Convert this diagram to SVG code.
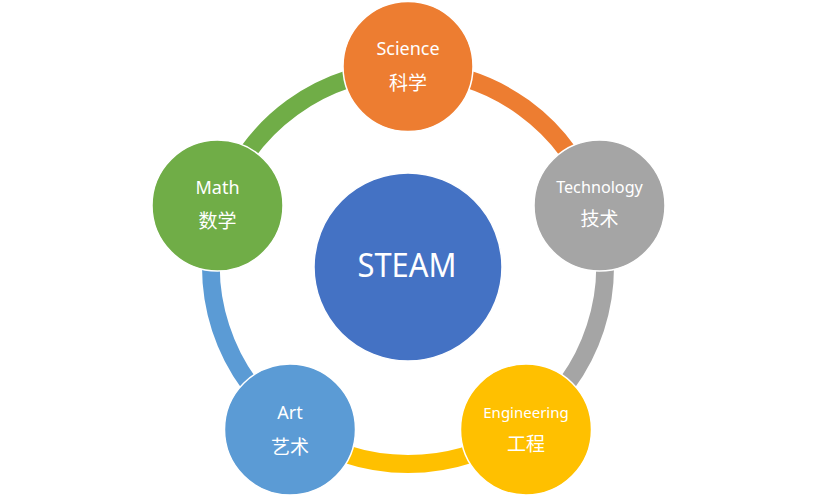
<svg xmlns="http://www.w3.org/2000/svg" width="816" height="500" viewBox="0 0 816 500">
<style>
.arc{fill:none;stroke-width:18}
.node{stroke:#FFFFFF;stroke-width:1.5}
.lat{font-family:"Noto Sans","Liberation Sans",sans-serif;fill:#FFFFFF;text-anchor:middle}
.cjk{font-family:"Noto Sans CJK SC","Noto Sans",sans-serif;fill:#FFFFFF;text-anchor:middle;font-size:19px}
</style>
<rect width="816" height="500" fill="#FFFFFF"/>
<g id="connectors">
<path class="arc" stroke="#ED7D31" d="M408,70 A197,197 0 0 1 595.36,206.12"/>
<path class="arc" stroke="#A5A5A5" d="M595.36,206.12 A197,197 0 0 1 523.79,426.38"/>
<path class="arc" stroke="#FFC000" d="M523.79,426.38 A197,197 0 0 1 292.21,426.38"/>
<path class="arc" stroke="#5B9BD5" d="M292.21,426.38 A197,197 0 0 1 220.64,206.12"/>
<path class="arc" stroke="#70AD47" d="M220.64,206.12 A197,197 0 0 1 408,70"/>
</g>
<g id="steam">
<circle class="node" cx="408" cy="267" r="94" fill="#4472C4"/>
<text class="lat" x="407" y="277" font-size="32" textLength="99" lengthAdjust="spacingAndGlyphs">STEAM</text>
</g>
<g id="science">
<circle class="node" cx="408" cy="66.5" r="65" fill="#ED7D31"/>
<text class="lat" x="408" y="55" font-size="18">Science</text>
<text class="cjk" x="408" y="89.5">科学</text>
</g>
<g id="technology">
<circle class="node" cx="599.5" cy="205.5" r="65.5" fill="#A5A5A5"/>
<text class="lat" x="599.5" y="193" font-size="16.2">Technology</text>
<text class="cjk" x="599.5" y="226">技术</text>
</g>
<g id="engineering">
<circle class="node" cx="526" cy="429.5" r="65.5" fill="#FFC000"/>
<text class="lat" x="526" y="418" font-size="15">Engineering</text>
<text class="cjk" x="526" y="450.5">工程</text>
</g>
<g id="art">
<circle class="node" cx="290" cy="429.5" r="65.5" fill="#5B9BD5"/>
<text class="lat" x="290" y="419" font-size="18">Art</text>
<text class="cjk" x="290" y="453.5">艺术</text>
</g>
<g id="math">
<circle class="node" cx="217.5" cy="205.5" r="65.5" fill="#70AD47"/>
<text class="lat" x="217.5" y="194" font-size="18">Math</text>
<text class="cjk" x="217.5" y="228">数学</text>
</g>
</svg>
